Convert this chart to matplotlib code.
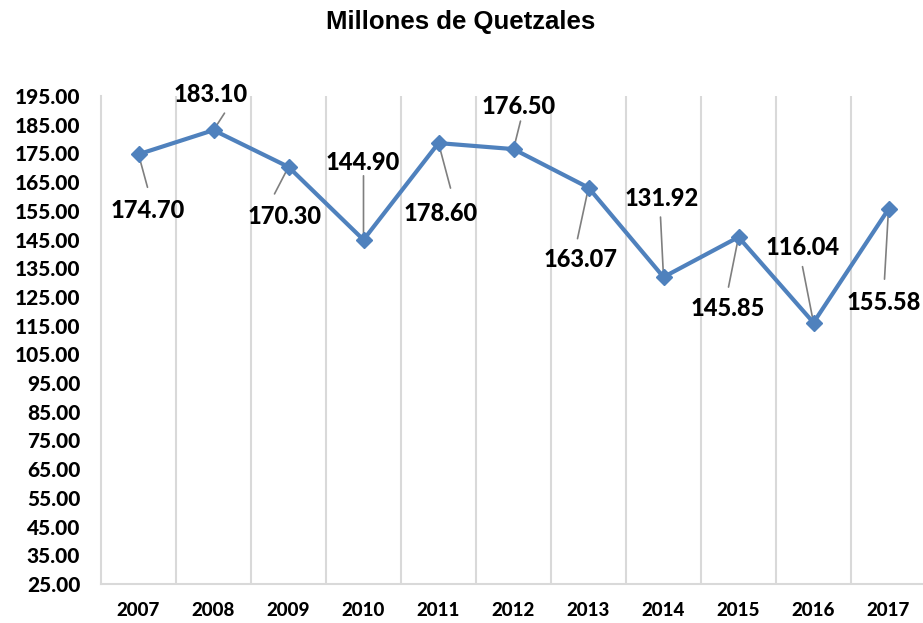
import matplotlib
matplotlib.use("Agg")
import matplotlib.pyplot as plt
import numpy as np

# data
years = ["2007", "2008", "2009", "2010", "2011", "2012", "2013", "2014", "2015", "2016", "2017"]
values = [174.70, 183.10, 170.30, 144.90, 178.60, 176.50, 163.07, 131.92, 145.85, 116.04, 155.58]
y_ticks = [25, 35, 45, 55, 65, 75, 85, 95, 105, 115, 125, 135, 145, 155, 165, 175, 185, 195]

# label layout: text offset and leader end offset, pixels from the point (x right, y down)
label_off = [(9, 56), (-3, -36), (-4, 50), (-1, -77), (2, 70), (5, -43),
             (-8, 72), (-2, -79), (-11, 71), (-11, -75), (-5, 93)]
leader_off = [(9, 33), (11, -17), (-14, 27), (0, -64), (12, 45), (7, -28),
              (-11, 51), (-3, -60), (-10, 50), (-11, -56), (-4, 70)]

DPI = 100
W, H = 923, 623
fig = plt.figure(figsize=(W / DPI, H / DPI), dpi=DPI)
left_px, right_px, top_px, bot_px = 101, 923, 96, 584
ax = fig.add_axes([left_px / W, 1 - bot_px / H, (right_px - left_px) / W, (bot_px - top_px) / H])

LINE = "#4f81bd"
GRID = "#d9d9d9"
FONT = "Lato"
WEIGHT = 900

x = np.arange(len(years))
ax.plot(x, values, color=LINE, lw=3, marker="D", markersize=8, zorder=3)

ax.set_xlim(-0.5, -0.5 + (right_px - left_px) / 75.0)
ax.set_ylim(25, 195)

# category boundaries as vertical gridlines
for b in np.arange(0.5, len(years) - 0.5, 1.0):
    ax.axvline(b, color=GRID, lw=1.5, zorder=1)

for s in ["top", "right"]:
    ax.spines[s].set_visible(False)
ax.spines["left"].set_color(GRID)
ax.spines["left"].set_linewidth(1.5)
ax.spines["bottom"].set_color(GRID)
ax.spines["bottom"].set_linewidth(1.5)

ax.set_yticks(y_ticks)
ax.set_yticklabels([f"{t:.2f}" for t in y_ticks], fontfamily=FONT, fontweight=WEIGHT, fontsize=15)
ax.set_xticks(x)
ax.set_xticklabels(years, fontfamily=FONT, fontweight=WEIGHT, fontsize=13.5)
ax.tick_params(axis="y", length=0, pad=15)
ax.tick_params(axis="x", length=0, pad=13)

px2pt = 72.0 / DPI
for i, v in enumerate(values):
    lx, ly = label_off[i]
    ex, ey = leader_off[i]
    ax.annotate(f"{v:.2f}", xy=(x[i], v), xytext=(lx * px2pt, -ly * px2pt),
                textcoords="offset points", ha="center", va="center",
                fontfamily=FONT, fontweight=WEIGHT, fontsize=17, color="#000000", zorder=4)
    ax.annotate("", xy=(x[i], v), xytext=(ex * px2pt, -ey * px2pt),
                textcoords="offset points",
                arrowprops=dict(arrowstyle="-", color="#7f7f7f", lw=1.2,
                                shrinkA=0, shrinkB=0), zorder=2)

fig.text(461 / W, 1 - 22 / H, "Millones de Quetzales", ha="center", va="center",
         fontfamily="Liberation Sans", fontweight="bold", fontsize=18.5)

fig.savefig("out.png", dpi=DPI)
